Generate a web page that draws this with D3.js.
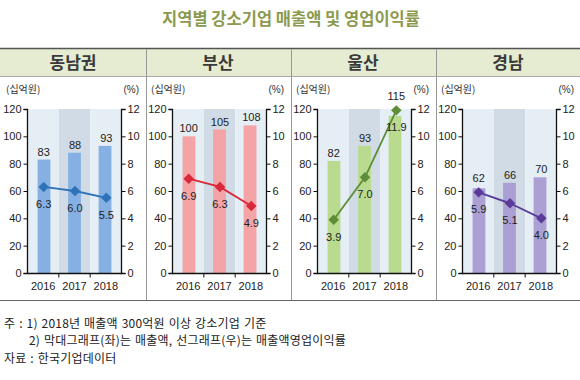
<!DOCTYPE html>
<html><head><meta charset="utf-8">
<script src="https://cdn.jsdelivr.net/npm/d3@7"></script>
<style>
body{margin:0;background:#fff;}
svg{display:block;}
text{font-family:"Liberation Sans","Noto Sans CJK KR",sans-serif;}
.kr{font-family:"Noto Sans CJK KR","Liberation Sans",sans-serif;}
</style></head>
<body><svg id="c" width="580" height="380"></svg>
<script>
const title = "지역별 강소기업 매출액 및 영업이익률";
const years = ["2016", "2017", "2018"];
const regions = ["동남권", "부산", "울산", "경남"];
const sales = [[83, 88, 93], [100, 105, 108], [82, 93, 115], [62, 66, 70]];
const margins = [[6.3, 6.0, 5.5], [6.9, 6.3, 4.9], [3.9, 7.0, 11.9], [5.9, 5.1, 4.0]];
const leftTicks = [0, 20, 40, 60, 80, 100, 120];
const rightTicks = [0, 2, 4, 6, 8, 10, 12];
const barColors = ["#86b0e3", "#f4a4a6", "#b9da8f", "#ab9fd3"];
const lineColors = ["#2e73b8", "#d8283a", "#5d8d36", "#5a3c98"];
const notes = ["주 : 1) 2018년 매출액 300억원 이상 강소기업 기준",
               "2) 막대그래프(좌)는 매출액, 선그래프(우)는 매출액영업이익률",
               "자료 : 한국기업데이터"];

const svg = d3.select("#c");
svg.append("text").attr("class","kr").attr("x",291).attr("y",25).attr("text-anchor","middle")
  .attr("font-size",16.5).attr("font-weight","bold").attr("fill","#8b9a4f").text(title);

svg.append("rect").attr("x",0).attr("y",49).attr("width",580).attr("height",27).attr("fill","#e5ecd2");
svg.append("line").attr("x1",0).attr("x2",580).attr("y1",48.5).attr("y2",48.5).attr("stroke","#555").attr("stroke-width",1.5);
svg.append("line").attr("x1",0).attr("x2",580).attr("y1",76.5).attr("y2",76.5).attr("stroke","#aaa");
svg.append("line").attr("x1",0).attr("x2",580).attr("y1",300.5).attr("y2",300.5).attr("stroke","#666");

const panelW = 145;
const y = d3.scaleLinear().domain([0,120]).range([273,109]);
const y2 = d3.scaleLinear().domain([0,12]).range([273,109]);

regions.forEach((r,i)=>{
  const ox = i*panelW;
  if(i>0) svg.append("line").attr("x1",ox+1.5).attr("x2",ox+1.5).attr("y1",49).attr("y2",300).attr("stroke","#999");
  const g = svg.append("g").attr("transform",`translate(${ox},0)`);
  g.append("text").attr("class","kr").attr("x",73).attr("y",69).attr("text-anchor","middle")
    .attr("font-size",17).attr("font-weight","bold").attr("fill","#3a3a3a").text(r);
  g.append("text").attr("class","kr").attr("x",6).attr("y",93).attr("font-size",10).attr("fill","#333").text("(십억원)");
  g.append("text").attr("x",139).attr("y",93).attr("text-anchor","end").attr("font-size",10).attr("fill","#333").text("(%)");

  const x = d3.scaleBand().domain(years).range([27.5,121.5]);
  g.selectAll("rect.bg").data(years).join("rect").attr("class","bg")
    .attr("x",d=>x(d)).attr("width",x.bandwidth()).attr("y",y(120)).attr("height",y(0)-y(120))
    .attr("fill",(d,j)=>j===1?"#d0dbe5":"#e6eef5");
  const xb = d3.scaleBand().domain(years).range([27.5,121.5]).paddingInner(0.58).paddingOuter(0.33);
  g.selectAll("rect.bar").data(sales[i]).join("rect").attr("class","bar")
    .attr("x",(d,j)=>xb(years[j])).attr("width",xb.bandwidth())
    .attr("y",d=>y(d)).attr("height",d=>y(0)-y(d)).attr("fill",barColors[i]);

  const ay = g.append("g").attr("transform","translate(27.5,0)")
    .call(d3.axisLeft(y).tickValues(leftTicks).tickSize(4).tickPadding(2));
  const ay2 = g.append("g").attr("transform","translate(121.5,0)")
    .call(d3.axisRight(y2).tickValues(rightTicks).tickSize(4).tickPadding(2));
  const ax = g.append("g").attr("transform","translate(0,273.5)")
    .call(d3.axisBottom(x).tickSize(0).tickPadding(9));
  [ay,ay2,ax].forEach(a=>{
    a.select(".domain").attr("stroke","#111").attr("stroke-width",1.3);
    a.selectAll(".tick line").attr("stroke","#111");
    a.selectAll("text").attr("font-size",11).attr("fill","#222").attr("font-family","Liberation Sans, sans-serif");
  });
  ay.select(".domain").attr("d","M-4,109.5H0V273.5H-4");
  ay2.select(".domain").attr("d","M4,109.5H0V273.5H4");
  ax.select(".domain").attr("d",`M${27.5},0H${121.5}`);
  g.selectAll("line.xt").data([1,2]).join("line").attr("class","xt")
    .attr("x1",k=>x(years[k])).attr("x2",k=>x(years[k])).attr("y1",273.5).attr("y2",277.5).attr("stroke","#111");

  const cx = (j)=>x(years[j])+x.bandwidth()/2 + 0.5;
  const line = d3.line().x((d,j)=>cx(j)).y(d=>y2(d));
  g.append("path").datum(margins[i]).attr("d",line).attr("fill","none").attr("stroke",lineColors[i]).attr("stroke-width",1.8);
  g.selectAll("path.mk").data(margins[i]).join("path").attr("class","mk")
    .attr("d",d3.symbol(d3.symbolDiamond2, 70))
    .attr("transform",(d,j)=>`translate(${cx(j)},${y2(d)})`).attr("fill",lineColors[i]);
  g.selectAll("text.sv").data(sales[i]).join("text").attr("class","sv")
    .attr("x",(d,j)=>cx(j)).attr("y",(d,j)=>Math.min(y(d), y2(margins[i][j])-6)-4)
    .attr("text-anchor","middle").attr("font-size",11).attr("fill","#222").text(d=>d);
  g.selectAll("text.mv").data(margins[i]).join("text").attr("class","mv")
    .attr("x",(d,j)=>cx(j)).attr("y",d=>y2(d)+21)
    .attr("text-anchor","middle").attr("font-size",11).attr("fill","#222").text(d=>d.toFixed(1));
});

const noteX = [4, 29, 4], noteY = [328, 345, 363];
notes.forEach((t,k)=>{
  svg.append("text").attr("class","kr").attr("x",noteX[k]).attr("y",noteY[k])
    .attr("font-size",12).attr("letter-spacing",0.2).attr("word-spacing",1)
    .attr("fill","#222").text(t);
});
</script></body></html>
